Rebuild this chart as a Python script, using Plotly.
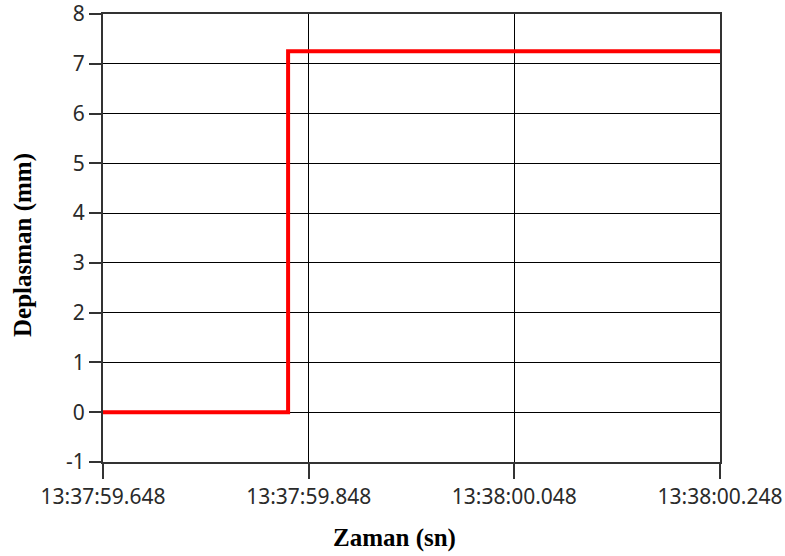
import plotly.graph_objects as go

# Data
times = ["2020-01-01 13:37:59.648", "2020-01-01 13:37:59.828",
         "2020-01-01 13:37:59.828", "2020-01-01 13:38:00.248"]
displacement = [0.0, 0.0, 7.25, 7.25]

x_tick_vals = ["2020-01-01 13:37:59.648", "2020-01-01 13:37:59.848",
               "2020-01-01 13:38:00.048", "2020-01-01 13:38:00.248"]
x_tick_text = ["13:37:59.648", "13:37:59.848", "13:38:00.048", "13:38:00.248"]
y_tick_vals = [-1, 0, 1, 2, 3, 4, 5, 6, 7, 8]
y_tick_text = ["-1", "0", "1", "2", "3", "4", "5", "6", "7", "8"]

fig = go.Figure()
fig.add_trace(go.Scatter(x=times, y=displacement, mode="lines",
                         line=dict(color="#ff0000", width=4),
                         showlegend=False))

tick_font = dict(family="Noto Sans, Open Sans, sans-serif", size=21, color="#2a2a2a")
title_font = dict(family="Liberation Serif, Times New Roman, serif", size=25, color="#000000")

fig.update_layout(
    width=785, height=556,
    margin=dict(l=103, r=65, t=14, b=94),
    paper_bgcolor="white", plot_bgcolor="white",
    xaxis=dict(
        type="date", automargin=False,
        range=[x_tick_vals[0], x_tick_vals[-1]],
        tickvals=x_tick_vals, ticktext=x_tick_text,
        showgrid=True, gridcolor="#000000", gridwidth=1.2,
        showline=True, linecolor="#333333", linewidth=2, mirror=True,
        ticks="outside", ticklen=15, tickwidth=2, tickcolor="#333333",
        tickfont=tick_font, ticklabeloverflow="allow",
        zeroline=False,
    ),
    yaxis=dict(
        automargin=False,
        range=[-1, 8],
        tickvals=y_tick_vals, ticktext=y_tick_text,
        showgrid=True, gridcolor="#000000", gridwidth=1.2,
        showline=True, linecolor="#333333", linewidth=2, mirror=True,
        ticks="outside", ticklen=12, tickwidth=2, tickcolor="#333333",
        tickfont=tick_font, ticklabeloverflow="allow",
        zeroline=False,
    ),
    annotations=[
        dict(text="<b>Zaman (sn)</b>", xref="paper", yref="paper",
             x=(394 - 103) / 617, y=-(538 - 462) / 448,
             xanchor="center", yanchor="middle", showarrow=False, font=title_font),
        dict(text="<b>Deplasman (mm)</b>", xref="paper", yref="paper",
             x=-(103 - 23) / 617, y=(462 - 245) / 448, textangle=-90,
             xanchor="center", yanchor="middle", showarrow=False, font=title_font),
    ],
)

fig.write_html("out.html", config={"displayModeBar": False},
               post_script="document.body.style.margin='0';document.body.style.overflow='hidden';")
